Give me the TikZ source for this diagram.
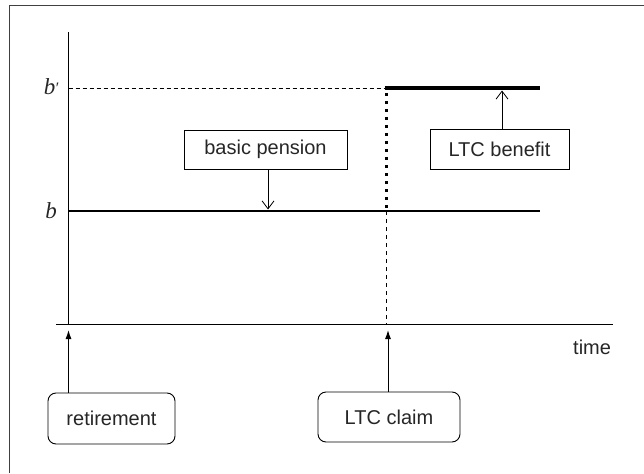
\documentclass[tikz,border=0pt]{standalone}
\usepackage{fontspec}
\setmainfont{Liberation Sans}
\newfontfamily\serifit{Liberation Serif}
\usetikzlibrary{arrows.meta}
\begin{document}
\begin{tikzpicture}[x=1pt,y=-1pt,
  lbl/.style={font=\fontsize{20}{24}\selectfont, text=black!85},
  sqbox/.style={lbl, draw, line width=0.9pt, inner sep=0pt},
  rbox/.style={lbl, draw, line width=0.9pt, inner sep=0pt, rounded corners=8pt},
  axisline/.style={line width=0.9pt},
  openarr/.style={line width=0.8pt, -{Straight Barb[length=8pt,width=12pt]}},
  fillarr/.style={line width=1pt, -{Latex[length=9pt,width=6pt]}},
  blabel/.style={font=\fontsize{23}{26}\selectfont\serifit\itshape, text=black!85, inner sep=0pt}]
\useasboundingbox (0,0) rectangle (644,473);
% frame
\draw[line width=1.2pt, black!75] (9.5,473) -- (9.5,5.5) -- (644,5.5);
% axes
\coordinate (o) at (68.5,324);
\coordinate (ytop) at (68.5,32);
\coordinate (xl) at (56,324);
\coordinate (xr) at (613,324);
\draw[axisline] (o) -- (ytop);
\draw[axisline] (xl) -- (xr);
\node[lbl, anchor=base west, inner sep=0pt] (time) at (573,354) {time};
% levels
\coordinate (bl) at (68.5,211);
\coordinate (bc) at (386.5,211);
\coordinate (br) at (540,211);
\coordinate (bpl) at (68.5,88);
\coordinate (bpc) at (386.5,88);
\coordinate (bpr) at (540,88);
\coordinate (claimx) at (386.5,324);
\draw[line width=2.3pt] (bl) -- (br);
\draw[line width=0.8pt, dash pattern=on 4pt off 3pt] (bpl) -- (bpc);
\draw[line width=4pt] (384.7,88) -- (bpr);
\draw[line width=3.6pt, dash pattern=on 3pt off 5pt] (386.5,93) -- (bc);
\draw[line width=0.8pt, dash pattern=on 4pt off 4pt] (bc) -- (claimx);
\node[blabel] (b) at (51,211) {b};
\node[blabel] (bp) at (51,87) {b\kern-0.5pt\raisebox{1pt}{\fontsize{16}{18}\selectfont ′}};
% boxes
\node[sqbox, minimum width=163pt, minimum height=39pt] (pen) at (265.5,149.5) {basic pension};
\node[sqbox, minimum width=139pt, minimum height=40pt] (ltcb) at (499.5,149) {LTC benefit};
\node[rbox, minimum width=127pt, minimum height=51pt] (ret) at (111.5,418.5) {retirement};
\node[rbox, minimum width=142pt, minimum height=50pt] (claim) at (389,417) {LTC claim};
% arrows
\coordinate (pent) at (268,209.5);
\coordinate (ltcbt) at (502,90.5);
\draw[openarr] (pen.south -| pent) -- (pent);
\draw[openarr] (ltcb.north -| ltcbt) -- (ltcbt);
\coordinate (rett) at (68.5,330);
\coordinate (claimt) at (388,330);
\draw[fillarr] (ret.north -| rett) -- (rett);
\draw[fillarr] (claim.north -| claimt) -- (claimt);
\end{tikzpicture}
\end{document}
